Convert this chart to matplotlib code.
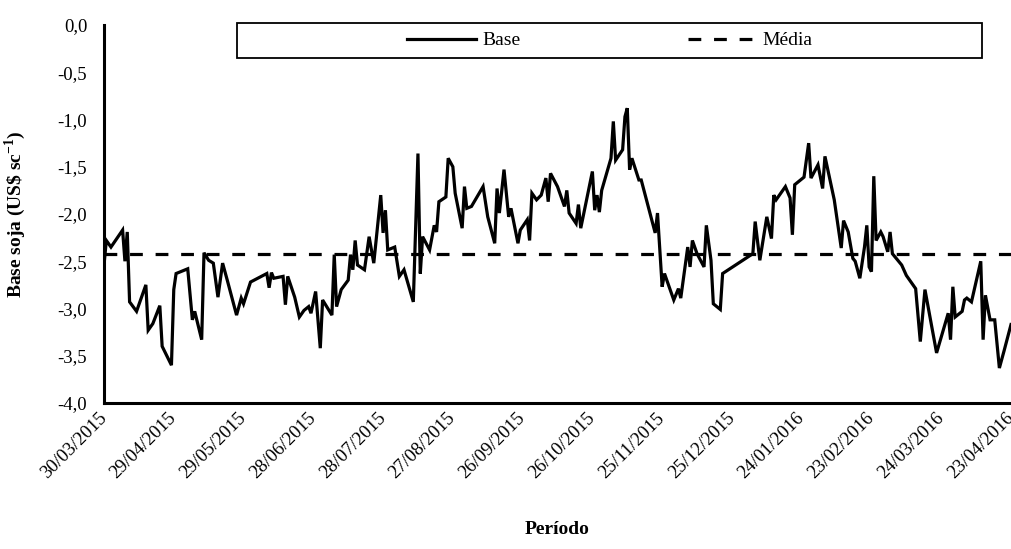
import numpy as np
import pandas as pd
import matplotlib
matplotlib.use("Agg")
import matplotlib.pyplot as plt
import matplotlib.dates as mdates
from matplotlib.patches import Rectangle
from matplotlib.ticker import FuncFormatter

plt.rcParams['font.family'] = ['Liberation Serif', 'DejaVu Serif']
plt.rcParams['mathtext.fontset'] = 'custom'
plt.rcParams['mathtext.rm'] = 'Liberation Serif'
plt.rcParams['mathtext.bf'] = 'Liberation Serif:bold'

# dias a partir de 30/03/2015
inicio = pd.Timestamp('2015-03-30')
dias = [0, 1, 3, 8, 9, 10, 11, 14, 16, 18,
        19, 21, 24, 25, 29, 30, 31, 33, 36, 38,
        39, 42, 43, 45, 47, 49, 51, 53, 57, 59,
        60, 63, 70, 71, 72, 73, 77, 78, 79, 82,
        84, 86, 88, 89, 91, 93, 94, 95, 98, 99,
        100, 102, 105, 106, 107, 108, 109, 112, 114, 116,
        119, 120, 121, 122, 125, 127, 129, 133, 135, 136,
        137, 140, 142, 143, 144, 147, 148, 150, 151, 154,
        155, 156, 158, 163, 165, 168, 169, 170, 172, 174,
        175, 178, 179, 182, 183, 184, 186, 188, 190, 191,
        192, 195, 198, 199, 200, 203, 204, 205, 210, 211,
        212, 213, 214, 218, 219, 220, 223, 224, 225, 226,
        227, 230, 231, 234, 237, 238, 240, 241, 245, 247,
        248, 251, 252, 253, 255, 258, 259, 261, 262, 265,
        266, 279, 280, 282, 285, 287, 288, 289, 293, 295,
        296, 297, 301, 303, 304, 307, 309, 310, 314, 317,
        318, 320, 322, 323, 325, 327, 328, 329, 330, 331,
        332, 334, 335, 337, 338, 339, 340, 343, 345, 349,
        351, 353, 358, 363, 364, 365, 366, 369, 370, 371,
        373, 377, 378, 379, 381, 383, 385, 387, 390]

base = [-2.54, -2.28, -2.35, -2.17, -2.50, -2.19, -2.93, -3.03, -2.89, -2.75,
        -3.23, -3.16, -2.97, -3.40, -3.60, -2.80, -2.63, -2.61, -2.58, -3.12,
        -3.03, -3.33, -2.41, -2.49, -2.52, -2.88, -2.52, -2.70, -3.07, -2.89,
        -2.95, -2.72, -2.63, -2.78, -2.62, -2.68, -2.66, -2.96, -2.66, -2.88,
        -3.09, -3.02, -2.98, -3.05, -2.82, -3.42, -2.91, -2.95, -3.07, -2.43,
        -2.98, -2.80, -2.70, -2.43, -2.59, -2.28, -2.54, -2.59, -2.24, -2.52,
        -1.80, -2.20, -1.96, -2.38, -2.35, -2.66, -2.59, -2.93, -1.36, -2.63,
        -2.24, -2.38, -2.12, -2.19, -1.87, -1.82, -1.41, -1.50, -1.78, -2.15,
        -1.71, -1.94, -1.92, -1.71, -2.03, -2.31, -1.73, -1.99, -1.53, -2.03,
        -1.94, -2.31, -2.17, -2.06, -2.28, -1.78, -1.85, -1.80, -1.62, -1.87,
        -1.57, -1.71, -1.92, -1.75, -1.99, -2.10, -1.90, -2.15, -1.55, -1.96,
        -1.80, -1.98, -1.75, -1.41, -1.02, -1.43, -1.32, -0.97, -0.88, -1.53,
        -1.41, -1.64, -1.64, -1.92, -2.20, -1.99, -2.77, -2.63, -2.91, -2.79,
        -2.89, -2.35, -2.56, -2.28, -2.42, -2.56, -2.12, -2.49, -2.95, -3.01,
        -2.63, -2.42, -2.08, -2.49, -2.03, -2.26, -1.80, -1.85, -1.71, -1.83,
        -2.22, -1.69, -1.61, -1.25, -1.62, -1.48, -1.73, -1.39, -1.85, -2.36,
        -2.07, -2.19, -2.47, -2.50, -2.68, -2.35, -2.12, -2.56, -2.61, -1.60,
        -2.28, -2.19, -2.24, -2.40, -2.19, -2.42, -2.45, -2.54, -2.65, -2.79,
        -3.35, -2.80, -3.47, -3.05, -3.33, -2.77, -3.09, -3.03, -2.91, -2.89,
        -2.93, -2.50, -3.33, -2.86, -3.12, -3.12, -3.63, -3.45, -3.17]

media = -2.42
passo_ticks = 30  # dias entre rotulos

datas = inicio + pd.to_timedelta(dias, unit='D')

fig = plt.figure(figsize=(10.11, 5.49), dpi=100)
ax = fig.add_axes([104 / 1011, 146 / 549, 907 / 1011, 378 / 549])

ax.plot(datas, base, color='black', lw=2.3, label='Base', solid_joinstyle='miter')
ax.axhline(media, color='black', lw=2.3, dashes=(4, 4), label='Média')

ax.set_ylim(-4.0, 0.0)
ax.set_yticks(np.arange(-4.0, 0.01, 0.5))
ax.yaxis.set_major_formatter(FuncFormatter(lambda v, p: f"{v:.1f}".replace('.', ',')))

ax.set_xlim(datas[0], datas[-1])
ticks = [inicio + pd.Timedelta(days=k) for k in range(0, dias[-1] + 1, passo_ticks)]
ax.set_xticks(ticks)
ax.xaxis.set_major_formatter(mdates.DateFormatter('%d/%m/%Y'))
for lab in ax.get_xticklabels():
    lab.set_rotation(45)
    lab.set_ha('right')
    lab.set_va('center')
    lab.set_rotation_mode('anchor')

ax.tick_params(axis='both', length=0, labelsize=13.5)
ax.tick_params(axis='y', pad=12)
ax.tick_params(axis='x', pad=9)

for s in ['top', 'right']:
    ax.spines[s].set_visible(False)
for s in ['left', 'bottom']:
    ax.spines[s].set_linewidth(2.2)

ax.set_ylabel(r'Base soja (US\$ sc$^{\mathbf{-1}}$)', fontsize=14, fontweight='bold')
ax.yaxis.set_label_coords(-76 / 907, 0.5)
ax.set_xlabel('Período', fontsize=14, fontweight='bold')
ax.xaxis.set_label_coords(0.5, -118 / 378)

# caixa da legenda
fig.add_artist(Rectangle((237 / 1011, 1 - 58 / 549), 745 / 1011, 35 / 549,
                         transform=fig.transFigure, facecolor='white',
                         edgecolor='black', lw=1.3, zorder=3))
leg = fig.legend(loc='center', bbox_to_anchor=(610 / 1011, 1 - 40.5 / 549),
                 ncol=2, frameon=False, fontsize=14, handlelength=3.5,
                 handletextpad=0.35, columnspacing=8.6)
leg.set_zorder(4)

fig.savefig('out.png', dpi=100)
